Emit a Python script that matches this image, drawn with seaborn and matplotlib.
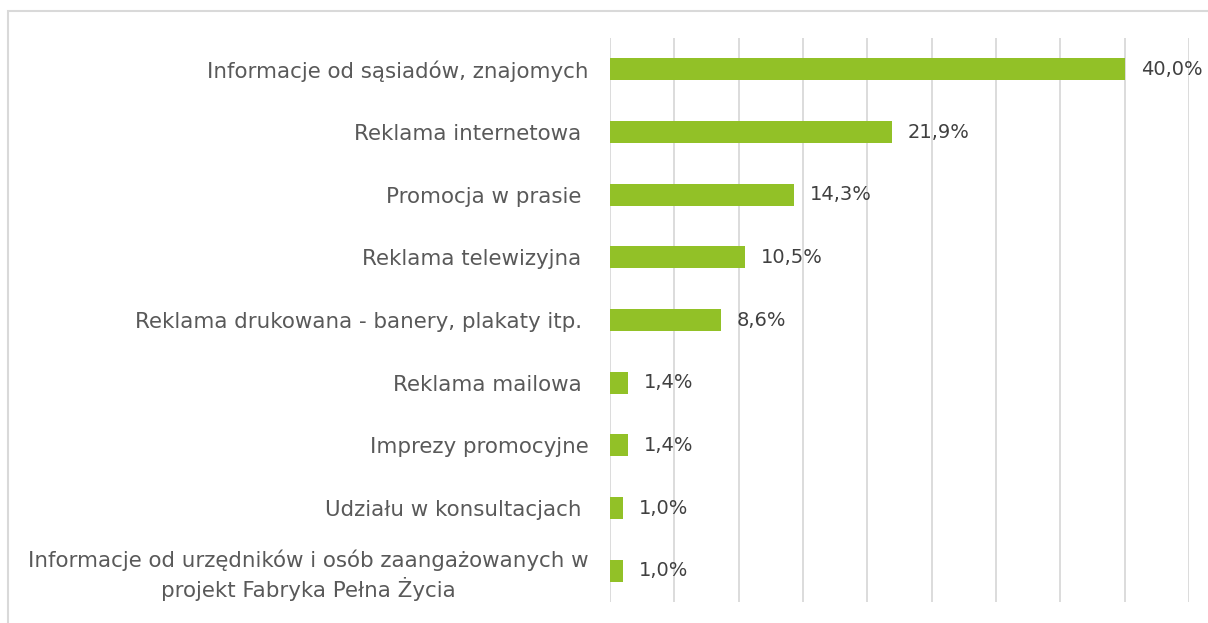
import matplotlib
matplotlib.use("Agg")
import matplotlib.pyplot as plt
import seaborn as sns
import pandas as pd
from matplotlib.patches import Rectangle

categories = [
    "Informacje od sąsiadów, znajomych",
    "Reklama internetowa ",
    "Promocja w prasie ",
    "Reklama telewizyjna ",
    "Reklama drukowana - banery, plakaty itp. ",
    "Reklama mailowa ",
    "Imprezy promocyjne",
    "Udziału w konsultacjach ",
    "Informacje od urzędników i osób zaangażowanych w\nprojekt Fabryka Pełna Życia",
]
values = [40.0, 21.9, 14.3, 10.5, 8.6, 1.4, 1.4, 1.0, 1.0]
value_labels = ["40,0%", "21,9%", "14,3%", "10,5%", "8,6%", "1,4%", "1,4%", "1,0%", "1,0%"]

df = pd.DataFrame({"cat": categories, "val": values})

sns.set_theme(style="white")
plt.rcParams['font.family'] = ['DejaVu Sans']

fig = plt.figure(figsize=(12.08, 6.23), dpi=100)
W, H = 1208, 623
ax = fig.add_axes([610 / W, 1 - 602 / H, (1189 - 610) / W, (602 - 38) / H])

sns.barplot(data=df, x="val", y="cat", color="#92C127", width=0.35, ax=ax,
            saturation=1, edgecolor="none")

ax.set_xlim(0, 45)
ax.set_xticks(range(0, 46, 5))
ax.xaxis.grid(True, color="#D9D9D9", linewidth=1.3)
ax.set_axisbelow(True)
ax.set_xticklabels([])
ax.tick_params(axis="x", length=0)
ax.tick_params(axis="y", length=0, pad=15.5)
for s in ax.spines.values():
    s.set_visible(False)
ax.set_xlabel("")
ax.set_ylabel("")
for lbl in ax.get_yticklabels():
    lbl.set_fontsize(15.4)
    lbl.set_color("#595959")
    lbl.set_multialignment("center")
    lbl.set_linespacing(1.3)

for i, (v, t) in enumerate(zip(values, value_labels)):
    ax.annotate(t, (v, i), xytext=(11.5, 0), textcoords="offset points",
                va="center", ha="left", fontsize=14, color="#404040")

fig.patches.append(Rectangle((8 / W, -0.1), 1.2, 1 - 11 / H + 0.1,
                             transform=fig.transFigure, fill=False,
                             edgecolor="#D9D9D9", linewidth=1.5))

fig.savefig("out.png", dpi=100)
